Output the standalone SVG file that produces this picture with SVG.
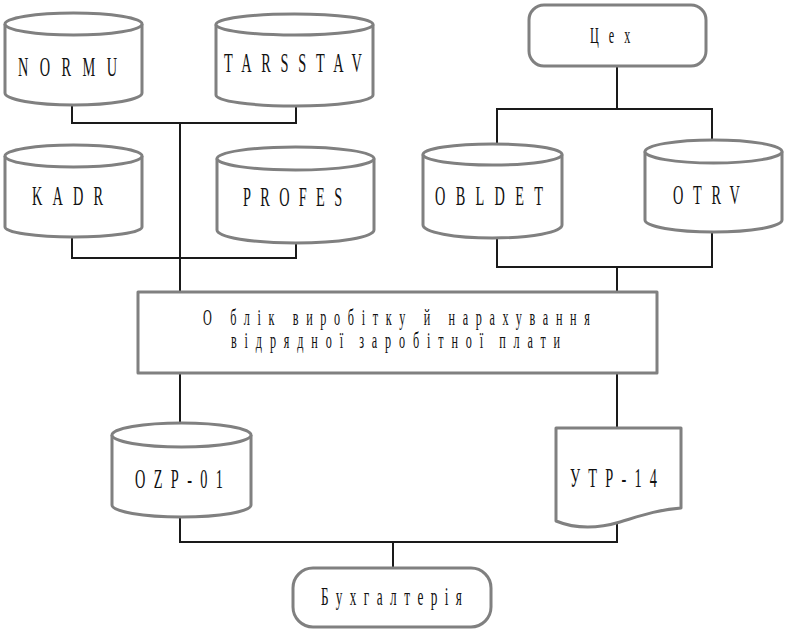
<svg xmlns="http://www.w3.org/2000/svg" width="788" height="634" viewBox="0 0 788 634">
<style>
  .shape { fill: #ffffff; stroke: #808080; stroke-width: 3; stroke-linejoin: round; }
  .conn { fill: none; stroke: #1a1a1a; stroke-width: 2; }
  .lbl { font-family: "Liberation Serif", "DejaVu Serif", serif; fill: #111111; }
</style>
<rect width="788" height="634" fill="#ffffff"/>

<g id="connectors">
  <path class="conn" d="M72,105 V123 H296 V106"/>
  <path class="conn" d="M180,123 V292"/>
  <path class="conn" d="M72,237 V258 H296 V243"/>
  <path class="conn" d="M617,66 V109"/>
  <path class="conn" d="M497,143 V109 H712 V140"/>
  <path class="conn" d="M497,238 V267 H712 V232"/>
  <path class="conn" d="M617,267 V292"/>
  <path class="conn" d="M180,373 V423"/>
  <path class="conn" d="M617,373 V428"/>
  <path class="conn" d="M180,517 V542 H617 V523"/>
  <path class="conn" d="M393,542 V568"/>
</g>

<g id="NORMU">
  <path class="shape" d="M5,24 V93 A68.5,12 0 0 0 142,93 V24"/>
  <ellipse class="shape" cx="73.5" cy="24" rx="68.5" ry="11"/>
  <text class="lbl" font-size="27" transform="translate(18,76) scale(0.53,1)" textLength="187" lengthAdjust="spacing">NORMU</text>
</g>

<g id="TARSSTAV">
  <path class="shape" d="M216,24.5 V95 A78.5,11 0 0 0 373,95 V24.5"/>
  <ellipse class="shape" cx="294.5" cy="24.5" rx="78.5" ry="10.5"/>
  <text class="lbl" font-size="27" transform="translate(224,72) scale(0.53,1)" textLength="260" lengthAdjust="spacing">TARSSTAV</text>
</g>

<g id="KADR">
  <path class="shape" d="M5,156 V227 A68.5,10 0 0 0 142,227 V156"/>
  <ellipse class="shape" cx="73.5" cy="156" rx="68.5" ry="11"/>
  <text class="lbl" font-size="27" transform="translate(32,205) scale(0.53,1)" textLength="134" lengthAdjust="spacing">KADR</text>
</g>

<g id="PROFES">
  <path class="shape" d="M217,158.5 V230 A78.5,13 0 0 0 374,230 V158.5"/>
  <ellipse class="shape" cx="295.5" cy="158.5" rx="78.5" ry="11.5"/>
  <text class="lbl" font-size="27" transform="translate(243,206) scale(0.53,1)" textLength="187" lengthAdjust="spacing">PROFES</text>
</g>

<g id="Tsekh">
  <rect class="shape" x="529" y="5" width="177" height="61" rx="15" ry="15"/>
  <text class="lbl" font-size="23" transform="translate(590,43) scale(0.53,1)" textLength="76" lengthAdjust="spacing">Цех</text>
</g>

<g id="OBLDET">
  <path class="shape" d="M423,154.5 V225 A69.5,13 0 0 0 562,225 V154.5"/>
  <ellipse class="shape" cx="492.5" cy="154.5" rx="69.5" ry="10.5"/>
  <text class="lbl" font-size="27" transform="translate(435,205) scale(0.53,1)" textLength="204" lengthAdjust="spacing">OBLDET</text>
</g>

<g id="OTRV">
  <path class="shape" d="M645,151.5 V220 A68.5,12 0 0 0 782,220 V151.5"/>
  <ellipse class="shape" cx="713.5" cy="151.5" rx="68.5" ry="11.5"/>
  <text class="lbl" font-size="27" transform="translate(673,204) scale(0.53,1)" textLength="126" lengthAdjust="spacing">OTRV</text>
</g>

<g id="process">
  <rect class="shape" x="138" y="292" width="519" height="81"/>
  <text class="lbl" font-size="23" transform="translate(203,325) scale(0.53,1)" textLength="730" lengthAdjust="spacing">О блік виробітку й нарахування</text>
  <text class="lbl" font-size="23" word-spacing="-5" transform="translate(231,348) scale(0.53,1)" textLength="621" lengthAdjust="spacing">відрядної заробітної плати</text>
</g>

<g id="OZP-01">
  <path class="shape" d="M112,435 V505 A69.5,12 0 0 0 251,505 V435"/>
  <ellipse class="shape" cx="181.5" cy="435" rx="69.5" ry="12"/>
  <text class="lbl" font-size="27" transform="translate(135,488) scale(0.53,1)" textLength="166" lengthAdjust="spacing">OZP-01</text>
</g>

<g id="UTR-14">
  <path class="shape" d="M556,428 H681 V508 C656,510 640,516 620,522 C600,528 578,530 556,521 Z"/>
  <text class="lbl" font-size="27" transform="translate(570,487) scale(0.53,1)" textLength="164" lengthAdjust="spacing">УТР-14</text>
</g>

<g id="Bukhhalteriia">
  <rect class="shape" x="293" y="568" width="198" height="59" rx="20" ry="20"/>
  <text class="lbl" font-size="25" transform="translate(321,605) scale(0.53,1)" textLength="266" lengthAdjust="spacing">Бухгалтерія</text>
</g>
</svg>
